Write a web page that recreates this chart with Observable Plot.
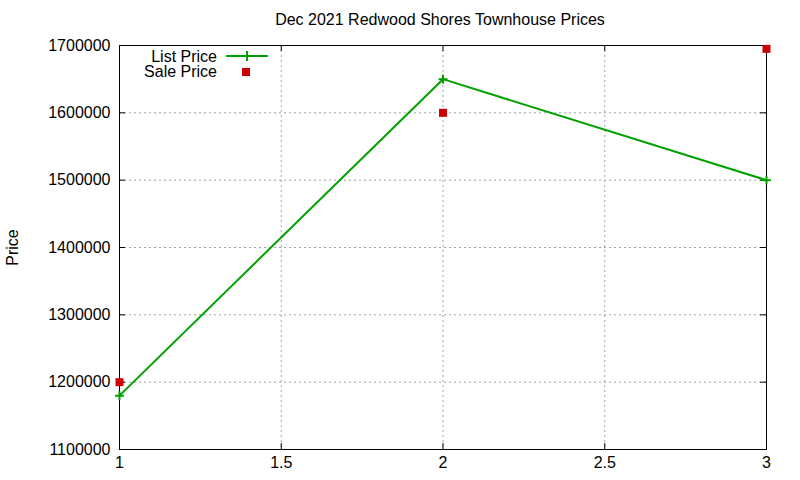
<!DOCTYPE html>
<html>
<head>
<meta charset="utf-8">
<script src="https://cdn.jsdelivr.net/npm/d3@7"></script>
<script src="https://cdn.jsdelivr.net/npm/@observablehq/plot@0.6"></script>
<style>
  body { margin: 0; background: #fff; font-family: "Liberation Sans", Arial, sans-serif; }
  #wrap { position: relative; width: 800px; height: 480px; }
  #title { height: 32px; box-sizing: border-box; padding-top: 11px; line-height: 18px; font-size: 16px; text-align: center; color: #000; padding-left: 80px; }
  #legend { position: absolute; left: 0; top: 0; }
</style>
</head>
<body>
<div id="wrap">
  <div id="title">Dec 2021 Redwood Shores Townhouse Prices</div>
  <div id="chart"></div>
</div>
<script>
const xs = [1, 2, 3];
const listPrice = [1180000, 1650000, 1500000];
const salePrice = [1200000, 1600000, 1695000];
const xTicks = [1, 1.5, 2, 2.5, 3];
const yTicks = [1100000, 1200000, 1300000, 1400000, 1500000, 1600000, 1700000];

const listData = xs.map((x, i) => ({x, y: listPrice[i]}));
const saleData = xs.map((x, i) => ({x, y: salePrice[i]}));

const green = "#00a000";
const red = "#cc0000";

const plusSymbol = {
  draw(ctx, size) {
    const r = Math.sqrt(size) / 2;
    ctx.moveTo(-r, 0); ctx.lineTo(r, 0);
    ctx.moveTo(0, -r); ctx.lineTo(0, r);
  }
};

const W = 800, H = 448;
const mL = 119, mR = 34, mT = 13, mB = 31;
const fw = W - mL - mR, fh = H - mT - mB;
const tl = 6;

const chart = Plot.plot({
  width: W, height: H,
  marginLeft: mL, marginRight: mR, marginTop: mT, marginBottom: mB,
  style: { fontFamily: "'Liberation Sans', Arial, sans-serif", fontSize: "16px", color: "#000", background: "#fff" },
  x: { domain: [1, 3] },
  y: { domain: [1100000, 1700000] },
  marks: [
    Plot.gridX(xTicks.slice(1, -1), { stroke: "#a0a0a0", strokeOpacity: 1, strokeDasharray: "2,3" }),
    Plot.gridY(yTicks.slice(1, -1), { stroke: "#a0a0a0", strokeOpacity: 1, strokeDasharray: "2,3" }),
    Plot.tickY(yTicks, { y: d => d, stroke: "#000", insetRight: fw - tl }),
    Plot.tickY(yTicks, { y: d => d, stroke: "#000", insetLeft: fw - tl }),
    Plot.tickX(xTicks, { x: d => d, stroke: "#000", insetTop: fh - tl }),
    Plot.tickX(xTicks, { x: d => d, stroke: "#000", insetBottom: fh - tl }),
    Plot.axisY(yTicks, { tickSize: 0, tickPadding: 9, tickFormat: d => String(d), label: null, fontSize: 16 }),
    Plot.axisX(xTicks, { tickSize: 0, tickPadding: 7, tickFormat: d => String(d), label: null, fontSize: 16 }),
    Plot.text(["Price"], { frameAnchor: "left", textAnchor: "middle", dx: -107, rotate: -90, fontSize: 16 }),
    Plot.frame({ stroke: "#000", strokeWidth: 1 }),
    Plot.line(listData, { x: "x", y: "y", stroke: green, strokeWidth: 2 }),
    Plot.dot(listData, { x: "x", y: "y", symbol: plusSymbol, r: 5, stroke: green, strokeWidth: 2, fill: "none" }),
    Plot.dot(saleData, { x: "x", y: "y", symbol: "square", r: 4.5, fill: red, stroke: "none" })
  ]
});
document.getElementById("chart").appendChild(chart);

// legend
const lg = d3.select("#wrap").append("svg")
  .attr("id", "legend").attr("width", 300).attr("height", 90)
  .style("font-family", "'Liberation Sans', Arial, sans-serif").style("font-size", "16px");
const entries = [
  { label: "List Price", kind: "line" },
  { label: "Sale Price", kind: "square" }
];
entries.forEach((e, i) => {
  const cy = 56 + i * 15.5;
  lg.append("text").attr("x", 217).attr("y", cy).attr("dy", "0.35em")
    .attr("text-anchor", "end").attr("fill", "#000").text(e.label);
  if (e.kind === "line") {
    lg.append("line").attr("x1", 226).attr("x2", 268).attr("y1", cy).attr("y2", cy)
      .attr("stroke", green).attr("stroke-width", 2);
    lg.append("path").attr("d", `M${247-5},${cy}h10M247,${cy-5}v10`)
      .attr("stroke", green).attr("stroke-width", 2).attr("fill", "none");
  } else {
    lg.append("rect").attr("x", 242).attr("y", cy - 3.5).attr("width", 8).attr("height", 8).attr("fill", red);
  }
});
</script>
</body>
</html>
